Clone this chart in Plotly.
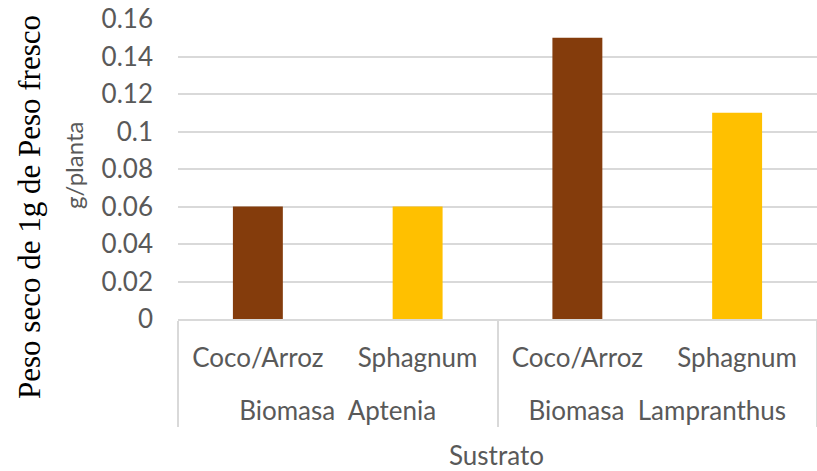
import plotly.graph_objects as go

groups = ["Biomasa  Aptenia", "Biomasa  Aptenia", "Biomasa  Lampranthus", "Biomasa  Lampranthus"]
substrates = ["Coco/Arroz", "Sphagnum", "Coco/Arroz", "Sphagnum"]
values = [0.06, 0.06, 0.15, 0.11]
bar_colors = ["#843C0C", "#FFC000", "#843C0C", "#FFC000"]
y_ticks = [0, 0.02, 0.04, 0.06, 0.08, 0.1, 0.12, 0.14, 0.16]
y_title = "Peso seco de 1g de Peso fresco"
y_subtitle = "g/planta"
x_title = "Sustrato"

SANS = "Lato, 'Open Sans', sans-serif"
fig = go.Figure()
fig.add_trace(go.Bar(
    x=[["<br>" + g for g in groups], substrates], y=values,
    marker=dict(color=bar_colors, line=dict(width=0)),
    width=0.3125,
))

fig.update_layout(
    width=817, height=471,
    margin=dict(l=178, r=0, t=19, b=152),
    paper_bgcolor="white", plot_bgcolor="white",
    showlegend=False,
    font=dict(family=SANS, size=26, color="#595959"),
    bargap=0.6875,
)
fig.update_yaxes(
    range=[0, 0.16], tickvals=y_ticks, ticktext=[("%g" % v) for v in y_ticks],
    showgrid=True, gridcolor="#d9d9d9", gridwidth=1.5,
    zeroline=False, showline=False, ticks="", ticklabelstandoff=24,
    tickfont=dict(family=SANS, size=26, color="#595959"),
)
fig.update_xaxes(
    showline=True, linecolor="#d9d9d9", linewidth=1.5,
    showdividers=True, dividercolor="#d9d9d9", dividerwidth=1.5,
    tickfont=dict(family=SANS, size=26, color="#595959"),
    ticks="", ticklabelstandoff=15,
)
fig.add_annotation(
    text=y_title, textangle=-90, showarrow=False,
    xref="paper", yref="paper", x=0, y=(319 - 207) / 300,
    xanchor="center", yanchor="middle", xshift=-149,
    font=dict(family="'Liberation Serif', 'Times New Roman', serif", size=31, color="#000000"),
)
fig.add_annotation(
    text=y_subtitle, textangle=-90, showarrow=False,
    xref="paper", yref="paper", x=0, y=(319 - 166) / 300,
    xanchor="center", yanchor="middle", xshift=-105,
    font=dict(family=SANS, size=24, color="#595959"),
)
fig.add_annotation(
    text=x_title, showarrow=False,
    xref="paper", yref="paper", x=(497 - 178) / 640, y=(319 - 455) / 300,
    xanchor="center", yanchor="middle",
    font=dict(family=SANS, size=26, color="#595959"),
)
fig.write_html("out.html")
